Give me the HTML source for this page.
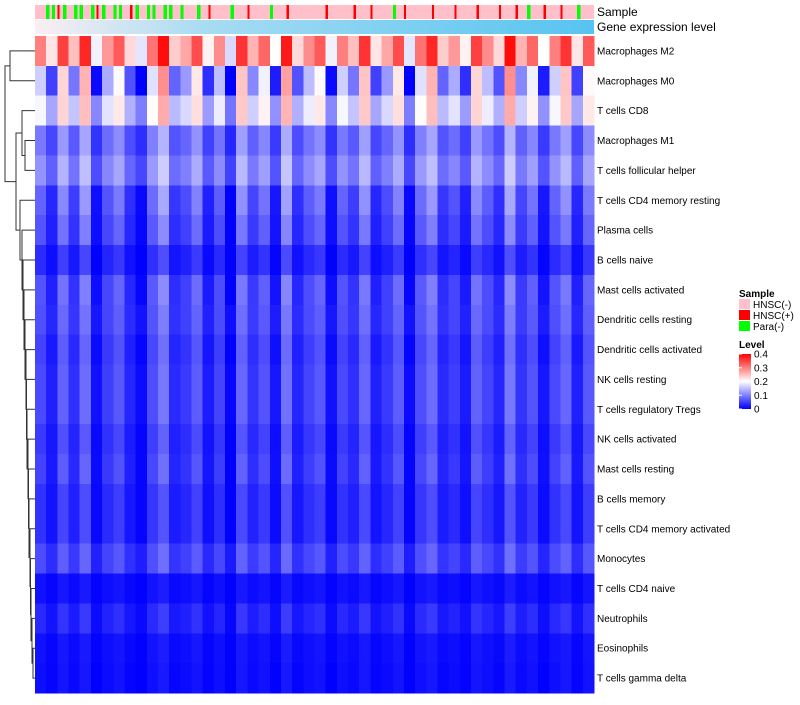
<!DOCTYPE html>
<html><head><meta charset="utf-8"><style>
body{margin:0;background:#fff;width:800px;height:700px;overflow:hidden;font-family:"Liberation Sans",sans-serif}
</style></head><body>
<svg id="chart" width="800" height="700" xmlns="http://www.w3.org/2000/svg">
<defs>
<linearGradient id="geneGrad" x1="0" x2="1" y1="0" y2="0"><stop offset="0" stop-color="#fbeff2"/><stop offset="0.3" stop-color="#a8dcf2"/><stop offset="1" stop-color="#56c4f0"/></linearGradient>
<linearGradient id="levelGrad" x1="0" x2="0" y1="1" y2="0"><stop offset="0" stop-color="#0000ff"/><stop offset="0.5" stop-color="#ffffff"/><stop offset="1" stop-color="#ff0000"/></linearGradient>
</defs>
<g id="heat" shape-rendering="crispEdges"></g>
<g id="anno" shape-rendering="crispEdges"></g>
<g id="dendro" stroke="#333" stroke-width="1" fill="none"></g>
<g id="rowlabels" font-size="10" fill="#000"></g>
<text x="597" y="16" font-size="12">Sample</text>
<text x="597" y="31" font-size="12">Gene expression level</text>
<g font-size="10">
<text x="739" y="297" font-weight="bold">Sample</text>
<rect x="739" y="299" width="11" height="10" fill="#ffc0cb"/>
<text x="753" y="308">HNSC(-)</text>
<rect x="739" y="310" width="11" height="10" fill="#ff0000"/>
<text x="753" y="319">HNSC(+)</text>
<rect x="739" y="321" width="11" height="10" fill="#00ff00"/>
<text x="753" y="330">Para(-)</text>
<text x="739" y="348" font-weight="bold">Level</text>
<rect x="739" y="354" width="12" height="55" fill="url(#levelGrad)"/>
<g id="levelTicks"></g>
</g>
</svg>
<script>
const rowNames=["Macrophages M2","Macrophages M0","T cells CD8","Macrophages M1","T cells follicular helper","T cells CD4 memory resting","Plasma cells","B cells naive","Mast cells activated","Dendritic cells resting","Dendritic cells activated","NK cells resting","T cells regulatory  Tregs","NK cells activated","Mast cells resting","B cells memory","T cells CD4 memory activated","Monocytes","T cells CD4 naive","Neutrophils","Eosinophils","T cells gamma delta"];
const rowMeans=[0.27,0.12,0.17,0.08,0.10,0.06,0.05,0.025,0.05,0.05,0.04,0.045,0.045,0.035,0.04,0.03,0.03,0.05,0.01,0.025,0.01,0.008];
const rowSpread=[0.10,0.14,0.08,0.05,0.05,0.06,0.05,0.03,0.05,0.04,0.04,0.04,0.04,0.035,0.04,0.03,0.03,0.03,0.01,0.02,0.01,0.01];
const colOffsets=[0.3,-0.5,0.8,-0.2,1.0,-0.8,0.1,0.6,-0.4,-0.9,0.4,1.2,-0.3,0.0,0.7,-0.6,0.2,-1.0,0.9,-0.1,0.5,-0.7,1.1,-0.4,0.2,0.6,-0.8,0.3,-0.2,0.9,-0.5,0.0,0.7,-0.9,0.4,1.0,-0.3,0.1,-0.6,0.8,0.2,-0.4,1.2,-0.1,0.5,-0.7,0.3,0.9,-0.5,0.6];
const nSamples=100;
const greenCols=[2,3,5,7,8,10,12,14,15,18,20,21,23,24,26,29,35,42,64,88,97];
const redCols=[4,11,17,31,38,45,52,57,60,66,71,75,79,83,86,91,94];
const levelTicks=[0,0.1,0.2,0.3,0.4];
const X0=35,X1=594,Y0=36,Y1=693;
const ns="http://www.w3.org/2000/svg";
function mk(t,a,p){const e=document.createElementNS(ns,t);for(const k in a)e.setAttribute(k,a[k]);p.appendChild(e);return e;}
function color(v){v=Math.max(0,Math.min(0.4,v));let r,g,b;if(v<0.2){const t=v/0.2;r=g=Math.round(255*t);b=255;}else{const t=(v-0.2)/0.2;r=255;g=b=Math.round(255*(1-t));}return `rgb(${r},${g},${b})`;}
const rh=(Y1-Y0)/rowNames.length;
const yOf=i=>Y0+i*rh;
const nc=colOffsets.length, cwH=(X1-X0)/nc;
const heat=document.getElementById('heat'),lab=document.getElementById('rowlabels');
rowMeans.forEach((m,i)=>{
 colOffsets.forEach((o,j)=>{
  const r=mk('rect',{x:X0+j*cwH,y:yOf(i),width:cwH+0.6,height:rh+0.6,fill:color(m+o*rowSpread[i])},heat);
  
  
 });
 const t=mk('text',{x:597,y:yOf(i)+rh/2+3.5},lab);t.textContent=rowNames[i];
 
 
});
const anno=document.getElementById('anno');
const cw=(X1-X0)/nSamples;
const sb=mk('rect',{x:X0,y:5,width:X1-X0,height:14,fill:'#ffc0cb'},anno);


greenCols.forEach(c=>{const r=mk('rect',{x:X0+c*cw,y:5,width:cw*0.6,height:14,fill:'#00ff00'},anno);
 
 });
redCols.forEach(c=>{const r=mk('rect',{x:X0+c*cw,y:5,width:cw*0.4,height:14,fill:'#ff0000'},anno);
 
 });
const gb=mk('rect',{x:X0,y:20,width:X1-X0,height:14,fill:'url(#geneGrad)'},anno);


const lt=document.getElementById('levelTicks');
levelTicks.forEach(v=>{const y=409-v/0.4*55;
 const l=mk('line',{x1:739,x2:742,y1:y,y2:y,stroke:'#fff'},lt);
 
 
 const t=mk('text',{x:754,y:y+3.5},lt);t.textContent=v===0?'0':v.toString();
 
 });
const dg=document.getElementById('dendro');
function leaf(i){return {y:yOf(i)+rh/2,x:X0};}
function merge(a,b,x){mk('path',{d:`M${a.x},${a.y}H${x}V${b.y}H${b.x}`},dg);return {y:(a.y+b.y)/2,x:x};}
let top2=merge(leaf(0),leaf(1),10);
let c2=merge(leaf(2),merge(leaf(3),leaf(4),25),22);
let chain=merge(leaf(20),leaf(21),33);
const chainX=[32,31,30.5,30,29,28.5,28,27,26.5,26,25,24,23,22,20];
for(let i=19;i>=5;i--){chain=merge(leaf(i),chain,chainX[19-i]);}
let mid=merge(c2,chain,16);
merge(top2,mid,5);
</script>
</body></html>
